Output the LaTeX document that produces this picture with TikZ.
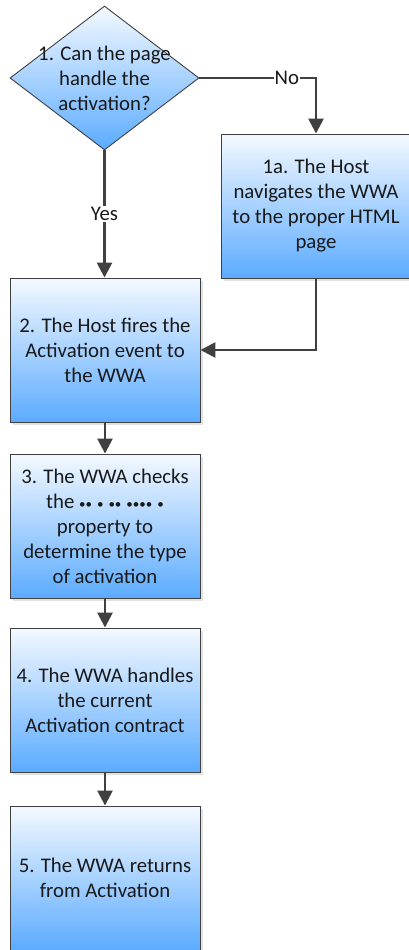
\documentclass[tikz,border=0pt]{standalone}
\usepackage{fontspec}
\setmainfont{Carlito}
\usetikzlibrary{arrows.meta,shadows,shapes.geometric}
\definecolor{linec}{HTML}{404040}
\definecolor{topc}{HTML}{F4F9FF}
\definecolor{botc}{HTML}{5BABFF}
\definecolor{shc}{HTML}{E2E2E2}
\tikzset{
  procbox/.style={rectangle, draw=linec, line width=0.9pt, top color=topc, bottom color=botc,
    minimum width=190pt, minimum height=144pt, inner sep=0pt,
    drop shadow={shadow xshift=3pt, shadow yshift=-3pt, fill=shc, opacity=1}},
  decbox/.style={diamond, draw=linec, line width=0.9pt, top color=topc, bottom color=botc,
    minimum width=189pt, minimum height=144pt, inner sep=0pt, aspect=1.3125},
  txt/.style={align=center, font=\fontsize{20.8}{25}\selectfont, text=black!90},
  conn/.style={draw=linec, line width=2.6pt, -{Triangle[length=15pt,width=15pt]}},
  lbl/.style={font=\fontsize{20.8}{25}\selectfont, fill=white, inner sep=1pt, text=black!90}
}
\newcommand{\dotsword}{{\fontsize{13}{25}\selectfont ••\hspace{5pt}•\hspace{5pt}••\hspace{5pt}••••\hspace{5pt}•}}
\begin{document}
\begin{tikzpicture}[x=1pt,y=-1pt]
\useasboundingbox (0,0) rectangle (409,950);
\node[decbox] (d1) at (104.5,78) {};
\node[txt] (d1t) at (104.5,78) {1. Can the page\\handle the\\activation?};
\node[procbox] (b1a) at (316,206) {};
\node[txt] (b1at) at (316,206) {1a. The Host\\navigates the WWA\\to the proper HTML\\page};
\node[procbox] (b2) at (105,350) {};
\node[txt] (b2t) at (105,350) {2. The Host fires the\\Activation event to\\the WWA};
\node[procbox] (b3) at (105,526) {};
\node[txt] (b3t) at (105,526) {3. The WWA checks\\the \dotsword\\property to\\determine the type\\of activation};
\node[procbox] (b4) at (105,700) {};
\node[txt] (b4t) at (105,700) {4. The WWA handles\\the current\\Activation contract};
\node[procbox] (b5) at (105,878) {};
\node[txt] (b5t) at (105,878) {5. The WWA returns\\from Activation};
\coordinate (c1) at (b1a.north |- d1.east);
\coordinate (c2) at (b1a.south |- b2.east);
\draw[conn] (d1.east) -- node[lbl, pos=0.75] (no) {No} (c1) -- (b1a.north);
\draw[conn] (d1.south) -- node[lbl] (yes) {Yes} (d1.south |- b2.north);
\draw[conn] (b1a.south) -- (c2) -- (b2.east);
\draw[conn] (b2.south) -- (b3.north);
\draw[conn] (b3.south) -- (b4.north);
\draw[conn] (b4.south) -- (b5.north);
\end{tikzpicture}
\end{document}
